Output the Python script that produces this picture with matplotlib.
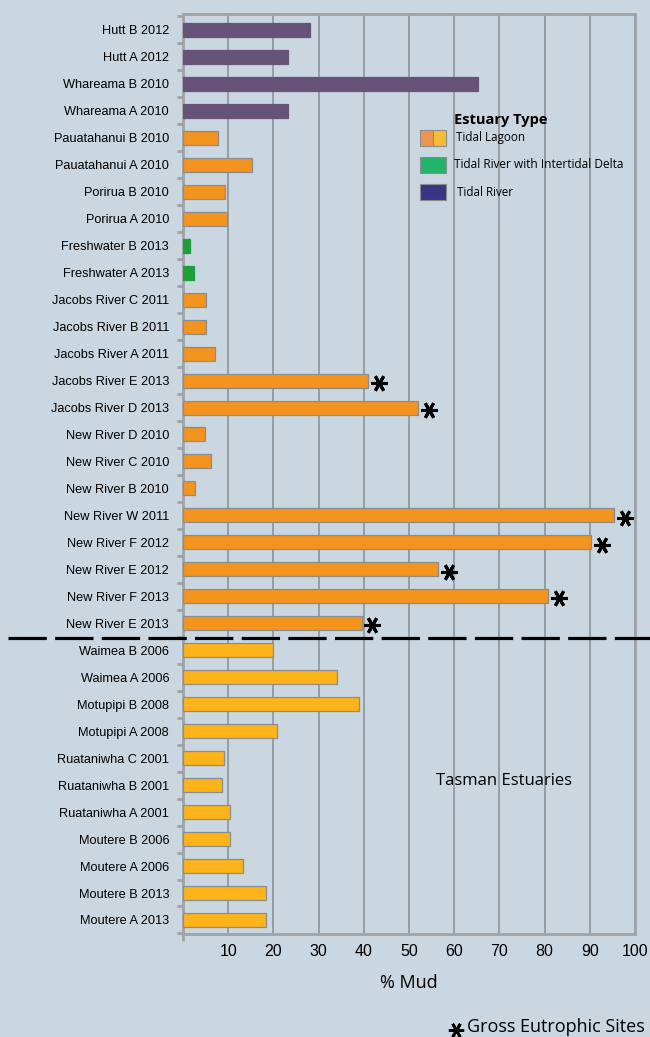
import matplotlib.pyplot as plt
from matplotlib.lines import Line2D
from matplotlib.patches import Rectangle
import numpy as np

# sites, top to bottom
sites = ['Hutt B 2012', 'Hutt A 2012', 'Whareama B 2010', 'Whareama A 2010',
         'Pauatahanui B 2010', 'Pauatahanui A 2010', 'Porirua B 2010', 'Porirua A 2010',
         'Freshwater B 2013', 'Freshwater A 2013', 'Jacobs River C 2011', 'Jacobs River B 2011',
         'Jacobs River A 2011', 'Jacobs River E 2013', 'Jacobs River D 2013', 'New River D 2010',
         'New River C 2010', 'New River B 2010', 'New River W 2011', 'New River F 2012',
         'New River E 2012', 'New River F 2013', 'New River E 2013',
         'Waimea B 2006', 'Waimea A 2006', 'Motupipi B 2008', 'Motupipi A 2008',
         'Ruataniwha C 2001', 'Ruataniwha B 2001', 'Ruataniwha A 2001',
         'Moutere B 2006', 'Moutere A 2006', 'Moutere B 2013', 'Moutere A 2013']
mud = [28.2, 23.2, 65.2, 23.2,
       7.7, 15.2, 9.2, 9.8,
       1.6, 2.4, 5.0, 5.0,
       7.0, 41.0, 52.0, 4.9,
       6.2, 2.6, 95.4, 90.3,
       56.5, 80.7, 39.5,
       20.0, 34.0, 39.0, 20.8,
       9.0, 8.6, 10.4,
       10.4, 13.2, 18.4, 18.4]
# estuary type per site: R = tidal river, D = tidal river with delta, L = lagoon, T = Tasman lagoon
etype = ['R'] * 4 + ['L'] * 4 + ['D'] * 2 + ['L'] * 13 + ['T'] * 11
eutrophic = ['Jacobs River E 2013', 'Jacobs River D 2013', 'New River W 2011',
             'New River F 2012', 'New River E 2012', 'New River F 2013', 'New River E 2013']
xticks = [10, 20, 30, 40, 50, 60, 70, 80, 90, 100]

bar_colors = {'R': '#675377', 'D': '#1f9e3a', 'L': '#f3941f', 'T': '#fdb31a'}
edge_colors = {'R': '#675377', 'D': '#1f9e3a', 'L': '#8c8c8c', 'T': '#8c8c8c'}
bg = '#cad7e0'
grey = '#9fa3a6'

fig = plt.figure(figsize=(6.5, 10.37), dpi=100)
fig.patch.set_facecolor(bg)
ax = fig.add_axes([183 / 650, 1 - 934 / 1037, 452 / 650, 920 / 1037])
ax.set_facecolor(bg)

y = np.arange(len(sites))
ax.barh(y, mud, height=0.52,
        color=[bar_colors[t] for t in etype],
        edgecolor=[edge_colors[t] for t in etype], linewidth=0.9, zorder=3)

# asterisks for gross eutrophic sites
for s in eutrophic:
    i = sites.index(s)
    ax.plot(mud[i] + 2.4, i + 0.08, marker=(6, 2, 90), ms=12, mew=2.2,
            color='black', zorder=4, clip_on=False)

ax.set_xlim(0, 100)
ax.set_ylim(len(sites) - 0.48, -0.59)
ax.set_xticks(xticks)
ax.set_xticklabels([str(v) for v in xticks], fontsize=11.5, family='Liberation Sans')
ax.set_xticks([0] + xticks, minor=True)
ax.set_yticks(y)
ax.set_yticklabels(sites, fontsize=9.2, family='Liberation Sans')
ax.set_yticks(np.arange(len(sites) + 1) - 0.5, minor=True)
ax.tick_params(axis='y', which='major', length=0, pad=10)
ax.tick_params(axis='y', which='minor', length=4, width=2, color=grey, direction='out')
ax.tick_params(axis='x', which='major', length=0, pad=7)
ax.tick_params(axis='x', which='minor', length=5, width=2, color=grey, direction='out')
ax.grid(axis='x', color='#8a8f93', linewidth=1.1, zorder=0)
for sp in ax.spines.values():
    sp.set_color(grey)
    sp.set_linewidth(2)

ax.set_xlabel('% Mud', fontsize=13, family='Open Sans', labelpad=11)

# dashed separator between regions
fig.add_artist(Line2D([8 / 650, 1.0], [1 - 638 / 1037] * 2, color='black',
                      linewidth=2.3, dashes=(12, 2.6)))

ax.text(504, 1037 - 781, 'Tasman Estuaries', transform=None, fontsize=12,
        family='Open Sans', ha='center', va='center')

# legend drawn by hand
def fpos(px, py):
    return px / 650, 1 - py / 1037

fig.text(*fpos(454, 120), 'Estuary Type', fontsize=10.5, fontweight='bold',
         family='Open Sans', va='center')
w, h = 26 / 650, 16 / 1037
x0, _ = fpos(420, 0)
for py, cols, label, tx, fs in [(146, ['#f0954f', '#f5bb33'], 'Tidal Lagoon', 456, 8.4),
                                (173, ['#22b46a'], 'Tidal River with Intertidal Delta', 454, 8.6),
                                (200, ['#3b3585'], 'Tidal River', 457, 8.4)]:
    yb = 1 - py / 1037
    n = len(cols)
    for k, c in enumerate(cols):
        fig.add_artist(Rectangle((x0 + k * w / n, yb), w / n, h, facecolor=c,
                                 edgecolor='#8c8c8c', linewidth=0.8,
                                 transform=fig.transFigure))
    fig.text(tx / 650, yb + h / 2, label, fontsize=fs, family='Open Sans', va='center')

fig.add_artist(Line2D([456 / 650], [1 - 1030 / 1037], marker=(6, 2, 90), ms=11,
                      mew=2.0, color='black'))
fig.text(*fpos(467, 1027), 'Gross Eutrophic Sites', fontsize=13, family='Open Sans',
         va='center')

fig.savefig('out.png', dpi=100, facecolor=bg)
